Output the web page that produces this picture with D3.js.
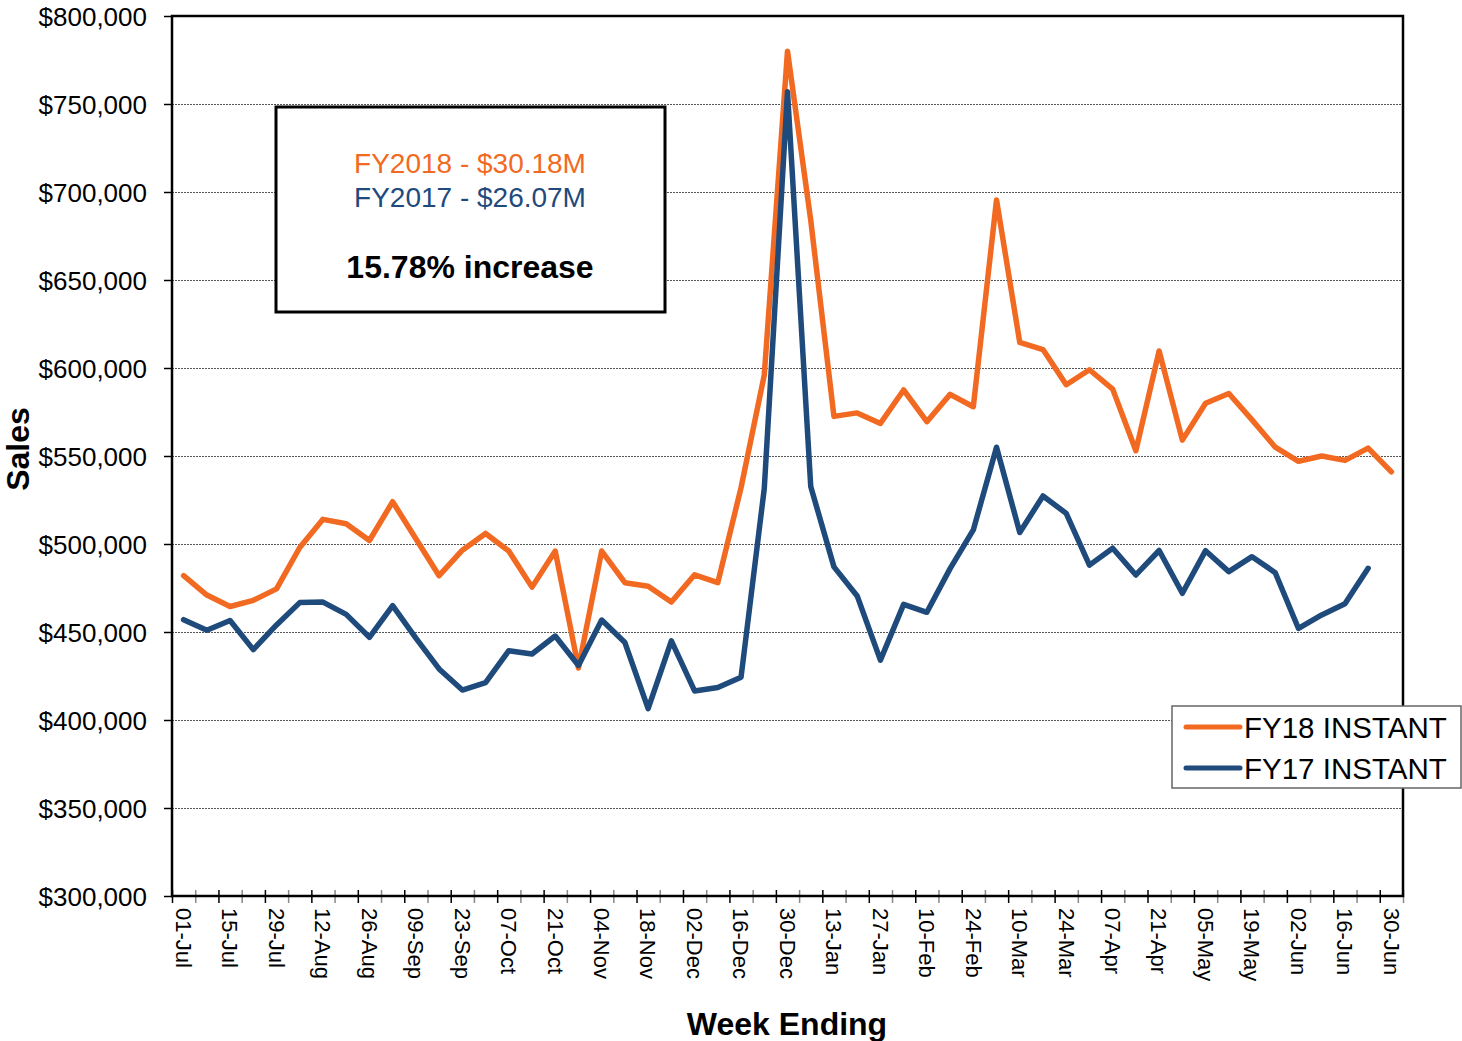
<!DOCTYPE html>
<html>
<head>
<meta charset="utf-8">
<script src="https://cdn.jsdelivr.net/npm/d3@7"></script>
<style>
  html, body { margin: 0; padding: 0; background: #fff; }
  svg { display: block; font-family: "Liberation Sans", Arial, sans-serif; }
  .grid line { stroke: #555; stroke-width: 1; stroke-dasharray: 2,1; }
  .grid .domain { display: none; }
  .ylab text { font-size: 26px; fill: #000; }
  .xlab text { font-size: 22px; fill: #000; }
  .axis-title { font-size: 32px; font-weight: bold; fill: #000; }
</style>
</head>
<body>
<svg id="chart"></svg>
<script>
(function () {
  "use strict";
  var W = 1462, H = 1041, M = { t: 16, r: 59, b: 145, l: 172 };

  // week ending dates, FY July -> June
  var weeks = ["01-Jul","08-Jul","15-Jul","22-Jul","29-Jul","05-Aug","12-Aug","19-Aug","26-Aug",
    "02-Sep","09-Sep","16-Sep","23-Sep","30-Sep","07-Oct","14-Oct","21-Oct","28-Oct",
    "04-Nov","11-Nov","18-Nov","25-Nov","02-Dec","09-Dec","16-Dec","23-Dec","30-Dec",
    "06-Jan","13-Jan","20-Jan","27-Jan","03-Feb","10-Feb","17-Feb","24-Feb",
    "03-Mar","10-Mar","17-Mar","24-Mar","31-Mar","07-Apr","14-Apr","21-Apr","28-Apr",
    "05-May","12-May","19-May","26-May","02-Jun","09-Jun","16-Jun","23-Jun","30-Jun"];

  // weekly sales, thousands of $
  var fy18 = [482, 471, 464.5, 468, 474.5, 498, 514, 511.5, 502, 524, 503, 482, 496.5, 506, 496,
    475.5, 496, 429.5, 496, 478, 476, 467, 482.5, 478, 532, 596, 780, 684, 572.5, 574.5, 568.5,
    587.5, 569.5, 585, 578, 695.5, 614.5, 610.5, 590.5, 599, 588, 553, 609.7, 559, 580, 585.5,
    570.5, 555, 547, 550, 547.5, 554.5, 541];
  var fy17 = [457, 451, 456.5, 440, 454, 466.7, 467, 460, 447, 465, 446.5, 429, 417, 421.2, 439.4,
    437.5, 447.7, 431, 456.8, 444, 406.5, 445, 416.5, 418.5, 424.3, 531.5, 757, 532.7, 487, 470.5,
    434, 465.7, 461.2, 486, 508, 555, 506.5, 527.3, 517.4, 488, 497.6, 482.4, 496.3, 472, 496.2,
    484.3, 492.8, 483.7, 452, 459.7, 466, 486.2, null];

  var yTicks = [300000, 350000, 400000, 450000, 500000, 550000, 600000, 650000, 700000, 750000, 800000];
  var seriesNames = ["FY18 INSTANT", "FY17 INSTANT"];
  var colors = ["#F26A22", "#1F4A7C"];
  var noteLines = ["FY2018 - $30.18M", "FY2017 - $26.07M"];
  var noteBold = "15.78% increase";

  var iw = W - M.l - M.r, ih = H - M.t - M.b;
  var svg = d3.select("#chart").attr("width", W).attr("height", H);
  var g = svg.append("g").attr("transform", "translate(" + M.l + "," + M.t + ")");

  var x = d3.scaleBand().domain(weeks).range([0, iw]).padding(0);
  var xEdge = d3.scaleLinear().domain([0, weeks.length]).range([0, iw]);
  var y = d3.scaleLinear().domain([300000, 800000]).range([ih, 0]);

  // grid
  g.append("g").attr("class", "grid")
    .call(d3.axisLeft(y).tickValues(yTicks.slice(1, -1)).tickSize(-iw).tickFormat(""));

  // y axis labels + ticks
  var ya = g.append("g").attr("class", "ylab")
    .call(d3.axisLeft(y).tickValues(yTicks).tickSize(8).tickPadding(17).tickFormat(function (d) { return "$" + d3.format(",")(d); }));
  ya.select(".domain").remove();
  ya.selectAll(".tick line").attr("stroke", "#000").attr("stroke-width", 1.5);
  ya.selectAll(".tick text").attr("dy", "0.36em");

  // x ticks at each week boundary, crossing the axis
  var xt = g.append("g").attr("transform", "translate(0," + ih + ")")
    .call(d3.axisBottom(xEdge).tickValues(d3.range(weeks.length + 1)).tickSize(7).tickFormat(""));
  xt.select(".domain").remove();
  xt.selectAll(".tick line").attr("y1", -6).attr("stroke", function (d) { return d % 2 ? "#888" : "#000"; }).attr("stroke-width", 1.5);

  // x labels every second week, rotated
  var xl = g.append("g").attr("class", "xlab").attr("transform", "translate(0," + ih + ")")
    .call(d3.axisBottom(x).tickValues(weeks.filter(function (d, i) { return i % 2 === 0; })).tickSize(0).tickPadding(0));
  xl.select(".domain").remove();
  xl.selectAll(".tick text")
    .attr("transform", "translate(0,12) rotate(90)")
    .attr("text-anchor", "start").attr("x", 0).attr("y", 0).attr("dy", "0.35em");

  // lines
  [fy18, fy17].forEach(function (s, k) {
    var line = d3.line()
      .defined(function (d) { return d != null; })
      .x(function (d, i) { return x(weeks[i]) + x.bandwidth() / 2; })
      .y(function (d) { return y(d * 1000); });
    g.append("path").datum(s).attr("fill", "none").attr("stroke", colors[k])
      .attr("stroke-width", 5.5).attr("stroke-linejoin", "round").attr("stroke-linecap", "round")
      .attr("d", line);
  });

  // plot frame
  g.append("rect").attr("width", iw).attr("height", ih).attr("fill", "none")
    .attr("stroke", "#000").attr("stroke-width", 2.5);

  // axis titles
  svg.append("text").attr("class", "axis-title").attr("text-anchor", "middle")
    .attr("font-size", 30)
    .attr("transform", "translate(29,449) rotate(-90)").text("Sales");
  svg.append("text").attr("class", "axis-title").attr("text-anchor", "middle")
    .attr("x", 787).attr("y", 1035).text("Week Ending");

  // annotation box
  var nb = svg.append("g").attr("transform", "translate(276,107)");
  nb.append("rect").attr("width", 389).attr("height", 205).attr("fill", "#fff")
    .attr("stroke", "#000").attr("stroke-width", 3);
  noteLines.forEach(function (t, k) {
    nb.append("text").attr("x", 194).attr("y", 66 + k * 34).attr("text-anchor", "middle")
      .attr("font-size", 28).attr("fill", colors[k]).text(t);
  });
  nb.append("text").attr("x", 194).attr("y", 171).attr("text-anchor", "middle")
    .attr("font-size", 32).attr("font-weight", "bold").attr("fill", "#000").text(noteBold);

  // legend
  var lg = svg.append("g").attr("transform", "translate(1172,706)");
  lg.append("rect").attr("width", 289).attr("height", 82).attr("fill", "#fff")
    .attr("stroke", "#666").attr("stroke-width", 1.5);
  seriesNames.forEach(function (n, k) {
    var yy = 21 + k * 41;
    lg.append("line").attr("x1", 14).attr("x2", 68).attr("y1", yy).attr("y2", yy)
      .attr("stroke", colors[k]).attr("stroke-width", 5).attr("stroke-linecap", "round");
    lg.append("text").attr("x", 72).attr("y", yy + 11).attr("font-size", 29.5).attr("fill", "#000").text(n);
  });
})();
</script>
</body>
</html>
